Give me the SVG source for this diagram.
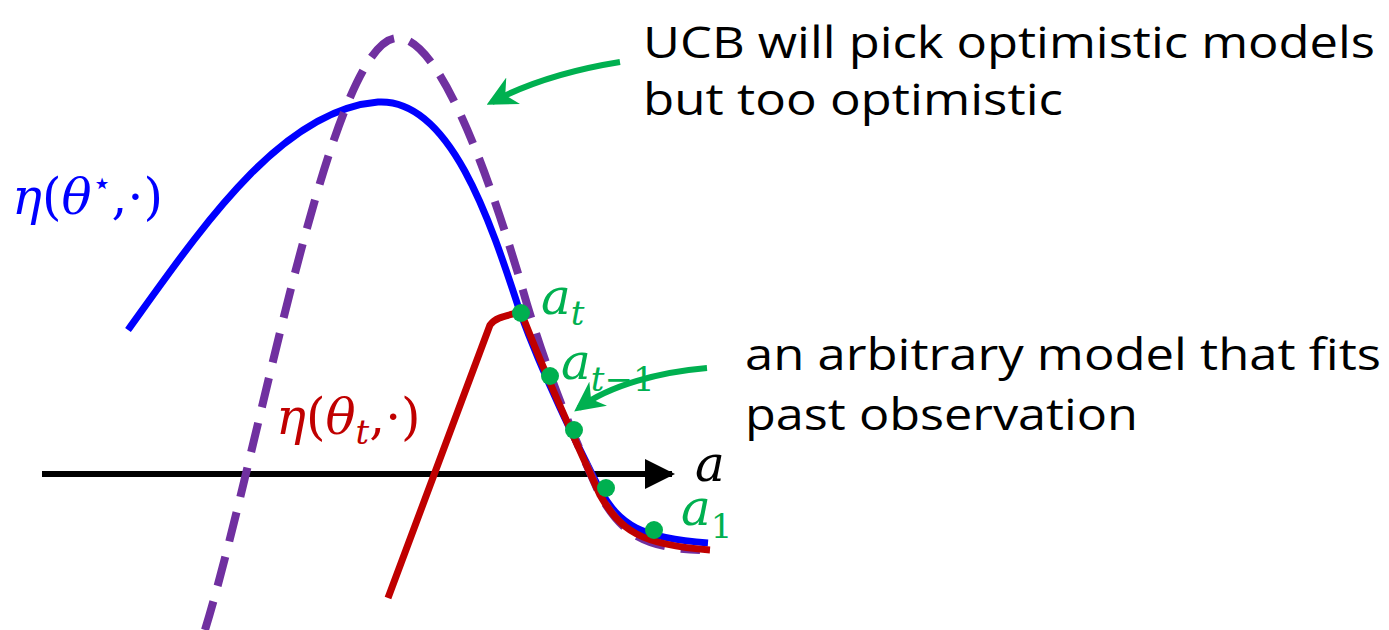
<svg xmlns="http://www.w3.org/2000/svg" width="1389" height="630" viewBox="0 0 1389 630">
<style>
.curve{fill:none;stroke-linecap:butt;stroke-linejoin:round}
.txt{font-family:"Open Sans","Noto Sans",sans-serif;font-size:44px;fill:#000}
.math{font-family:"DejaVu Serif","Liberation Serif",serif;font-style:italic;font-size:50px}
.sub{font-family:"DejaVu Serif","Liberation Serif",serif;font-style:italic;font-size:34px}
.up{font-style:normal}
.g{fill:#00B050}
</style>
<defs>
<marker id="ah" viewBox="0 0 10 10" refX="8" refY="5" markerWidth="5" markerHeight="5" orient="auto" markerUnits="strokeWidth">
<path d="M0,0 L10,5 L0,10 L3,5 Z" fill="#00B050"/>
</marker>
<marker id="ak" viewBox="0 0 10 10" refX="9" refY="5" markerWidth="5" markerHeight="5" orient="auto" markerUnits="strokeWidth">
<path d="M0,0 L10,5 L0,10 Z" fill="#000"/>
</marker>
</defs>
<g id="axis">
<line x1="42" y1="474" x2="672" y2="474" stroke="#000" stroke-width="6" marker-end="url(#ak)"/>
<text class="math" x="695" y="481" fill="#000">a</text>
</g>
<g id="true-model">
<path class="curve" d="M128,330 C200,230 280,110 378,102 C450,98 490,220 520,312 C545,380 575,440 600,490 C620,525 640,538 708,543" stroke="#0000FF" stroke-width="7"/>
<text class="math" x="12" y="214" fill="#0000FF">η<tspan class="up">(</tspan>θ<tspan font-size="32" dy="-20" class="up">⋆</tspan><tspan dy="20" class="up">,·)</tspan></text>
</g>
<g id="ucb-model">
<path class="curve" d="M205,630 C260,450 330,40 397,38 C440,36 490,180 520,280 C545,370 575,440 600,495 C620,530 640,548 700,550" stroke="#7030A0" stroke-width="8" stroke-dasharray="30,16"/>
</g>
<g id="fit-model">
<path class="curve" d="M388,598 L490,325 C496,317 506,316 521,312 C545,375 575,440 600,495 C620,530 640,545 710,550" stroke="#C00000" stroke-width="7"/>
<text class="math" x="276" y="434" fill="#C00000">η<tspan class="up">(</tspan>θ<tspan class="sub" dy="10">t</tspan><tspan dy="-10" class="up">,·)</tspan></text>
</g>
<g id="observations">
<circle class="g" cx="521" cy="313" r="9"/>
<circle class="g" cx="550" cy="376" r="9"/>
<circle class="g" cx="574" cy="430" r="9"/>
<circle class="g" cx="606" cy="488" r="9"/>
<circle class="g" cx="654" cy="530" r="9"/>
<text class="math g" x="541" y="314">a<tspan class="sub" dy="11">t</tspan></text>
<text class="math g" x="561" y="379">a<tspan class="sub" dy="12">t<tspan class="up">−1</tspan></tspan></text>
<text class="math g" x="681" y="525">a<tspan class="sub up" dy="13">1</tspan></text>
</g>
<g id="connectors">
<path d="M620,62 C570,70 530,82 492,102" fill="none" stroke="#00B050" stroke-width="6" marker-end="url(#ah)"/>
<path d="M707,368 C660,372 610,385 579,408" fill="none" stroke="#00B050" stroke-width="6" marker-end="url(#ah)"/>
</g>
<g id="labels">
<text class="txt" x="643" y="58" textLength="732" lengthAdjust="spacingAndGlyphs">UCB will pick optimistic models</text>
<text class="txt" x="643" y="115" textLength="420" lengthAdjust="spacingAndGlyphs">but too optimistic</text>
<text class="txt" x="745" y="370" textLength="636" lengthAdjust="spacingAndGlyphs">an arbitrary model that fits</text>
<text class="txt" x="745" y="430" textLength="393" lengthAdjust="spacingAndGlyphs">past observation</text>
</g>
</svg>
